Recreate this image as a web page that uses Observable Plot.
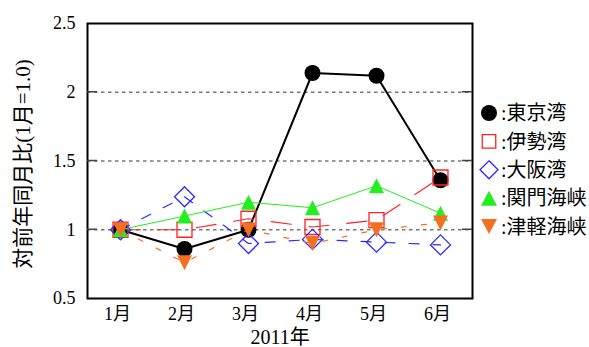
<!DOCTYPE html>
<html>
<head>
<meta charset="utf-8">
<script src="https://cdn.jsdelivr.net/npm/d3@7"></script>
<script src="https://cdn.jsdelivr.net/npm/@observablehq/plot@0.6"></script>
<style>
  html, body { margin: 0; padding: 0; background: white; }
  #chart { width: 589px; height: 347px; }
  #chart svg text { font-family: "Liberation Serif", "Noto Sans CJK JP", serif; }
</style>
</head>
<body>
<div id="chart"></div>
<script>
// ---- data ----
const months = ["1月", "2月", "3月", "4月", "5月", "6月"];
const seriesNames = ["東京湾", "伊勢湾", "大阪湾", "関門海峡", "津軽海峡"];
const tokyo   = [1.00, 0.86, 1.00, 2.14, 2.12, 1.36];
const ise     = [1.00, 1.00, 1.08, 1.02, 1.07, 1.38];
const osaka   = [1.00, 1.24, 0.90, 0.93, 0.91, 0.89];
const kanmon  = [1.00, 1.10, 1.20, 1.16, 1.32, 1.12];
const tsugaru = [1.00, 0.76, 1.00, 0.90, 1.00, 1.05];
const yTicks = [0.5, 1, 1.5, 2, 2.5];
const gridValues = [1, 1.5, 2];
const xTitle = "2011年";
const yTitle = "対前年同月比(1月=1.0)";

// ---- symbols (drawn centred on bounding box) ----
const circleSym = (r) => ({draw(c) { c.moveTo(r, 0); c.arc(0, 0, r, 0, 2 * Math.PI); }});
const squareSym = (s) => ({draw(c) { const h = s / 2; c.moveTo(-h, -h); c.lineTo(h, -h); c.lineTo(h, h); c.lineTo(-h, h); c.closePath(); }});
const diamondSym = (w, h) => ({draw(c) { c.moveTo(0, -h / 2); c.lineTo(w / 2, 0); c.lineTo(0, h / 2); c.lineTo(-w / 2, 0); c.closePath(); }});
const triUpSym = (w, h) => ({draw(c) { c.moveTo(0, -h / 2); c.lineTo(w / 2, h / 2); c.lineTo(-w / 2, h / 2); c.closePath(); }});
const triDownSym = (w, h) => ({draw(c) { c.moveTo(0, h / 2); c.lineTo(w / 2, -h / 2); c.lineTo(-w / 2, -h / 2); c.closePath(); }});

const values = [tokyo, ise, osaka, kanmon, tsugaru];
const styles = [
  {color: "#000000", width: 2,   dash: null,     sym: circleSym(8),        lsym: circleSym(8),        filled: true},
  {color: "#ff2222", width: 1.2, dash: "20,18",  sym: squareSym(15),       lsym: squareSym(13.5),     filled: false},
  {color: "#2a2aff", width: 1.2, dash: "10,14",  sym: diamondSym(20, 20),  lsym: diamondSym(18, 18),  filled: false},
  {color: "#22ee22", width: 1,   dash: null,     sym: triUpSym(15, 15),    lsym: triUpSym(16, 15),    filled: true},
  {color: "#f37021", width: 1.2, dash: "5,15",   sym: triDownSym(15, 15),  lsym: triDownSym(16, 15),  filled: true}
];

const font = "Liberation Serif, Noto Sans CJK JP, serif";

const marks = [
  Plot.ruleY(gridValues, {stroke: "#777", strokeWidth: 1.4, strokeDasharray: "3.5,3.5"})
];
seriesNames.forEach((name, i) => {
  const rows = months.map((m, j) => ({month: m, value: values[i][j]}));
  const st = styles[i];
  marks.push(Plot.line(rows, {x: "month", y: "value", stroke: st.color, strokeWidth: st.width,
    strokeDasharray: st.dash || undefined}));
  marks.push(Plot.dot(rows, {x: "month", y: "value", symbol: st.sym,
    fill: st.filled ? st.color : "none",
    stroke: st.filled ? "none" : st.color,
    strokeWidth: st.filled ? 0 : 1.3}));
});
marks.push(
  Plot.frame({stroke: "black", strokeWidth: 2}),
  Plot.axisY(yTicks, {tickSize: 0, tickPadding: 12, fontSize: 18, label: null, tickFormat: d => String(d)}),
  Plot.axisX({tickSize: 0, tickPadding: 9, fontSize: 18, label: null, dx: -3}),
  Plot.text([xTitle], {frameAnchor: "bottom", dy: 39, lineAnchor: "middle", fontSize: 20, text: d => d}),
  Plot.text([yTitle], {frameAnchor: "left", dx: -64, dy: 3, rotate: -90, fontSize: 21, textAnchor: "middle", lineAnchor: "middle", text: d => d})
);

const plot = Plot.plot({
  width: 589, height: 347,
  marginLeft: 87, marginRight: 117, marginTop: 23, marginBottom: 49,
  x: {type: "point", domain: months, padding: 0.5},
  y: {domain: [0.5, 2.5]},
  style: {fontFamily: font, background: "white", color: "black", overflow: "visible"},
  marks
});

// inward tick marks on left and right frame edges, positioned through the plot's y scale
const svg = d3.select(plot);
const ys = plot.scale("y");
const gT = svg.append("g").attr("stroke", "#444").attr("stroke-width", 1.5);
gridValues.forEach(v => {
  const y = ys.apply(v);
  gT.append("line").attr("x1", 87).attr("x2", 97).attr("y1", y).attr("y2", y);
  gT.append("line").attr("x1", 462).attr("x2", 472).attr("y1", y).attr("y2", y);
});

// legend
const lg = svg.append("g").attr("font-size", 20).attr("text-anchor", "start").attr("fill", "black");
seriesNames.forEach((name, i) => {
  const st = styles[i];
  const y = 113 + i * 28.4;
  lg.append("path")
    .attr("transform", `translate(489,${y})`)
    .attr("d", d3.symbol(st.lsym)())
    .attr("fill", st.filled ? st.color : "none")
    .attr("stroke", st.filled ? "none" : st.color)
    .attr("stroke-width", st.filled ? 0 : 1.3);
  lg.append("text")
    .attr("x", 501).attr("y", y).attr("dy", "0.36em")
    .attr("text-anchor", "start")
    .text(":" + name);
});

document.getElementById("chart").appendChild(plot);
</script>
</body>
</html>
